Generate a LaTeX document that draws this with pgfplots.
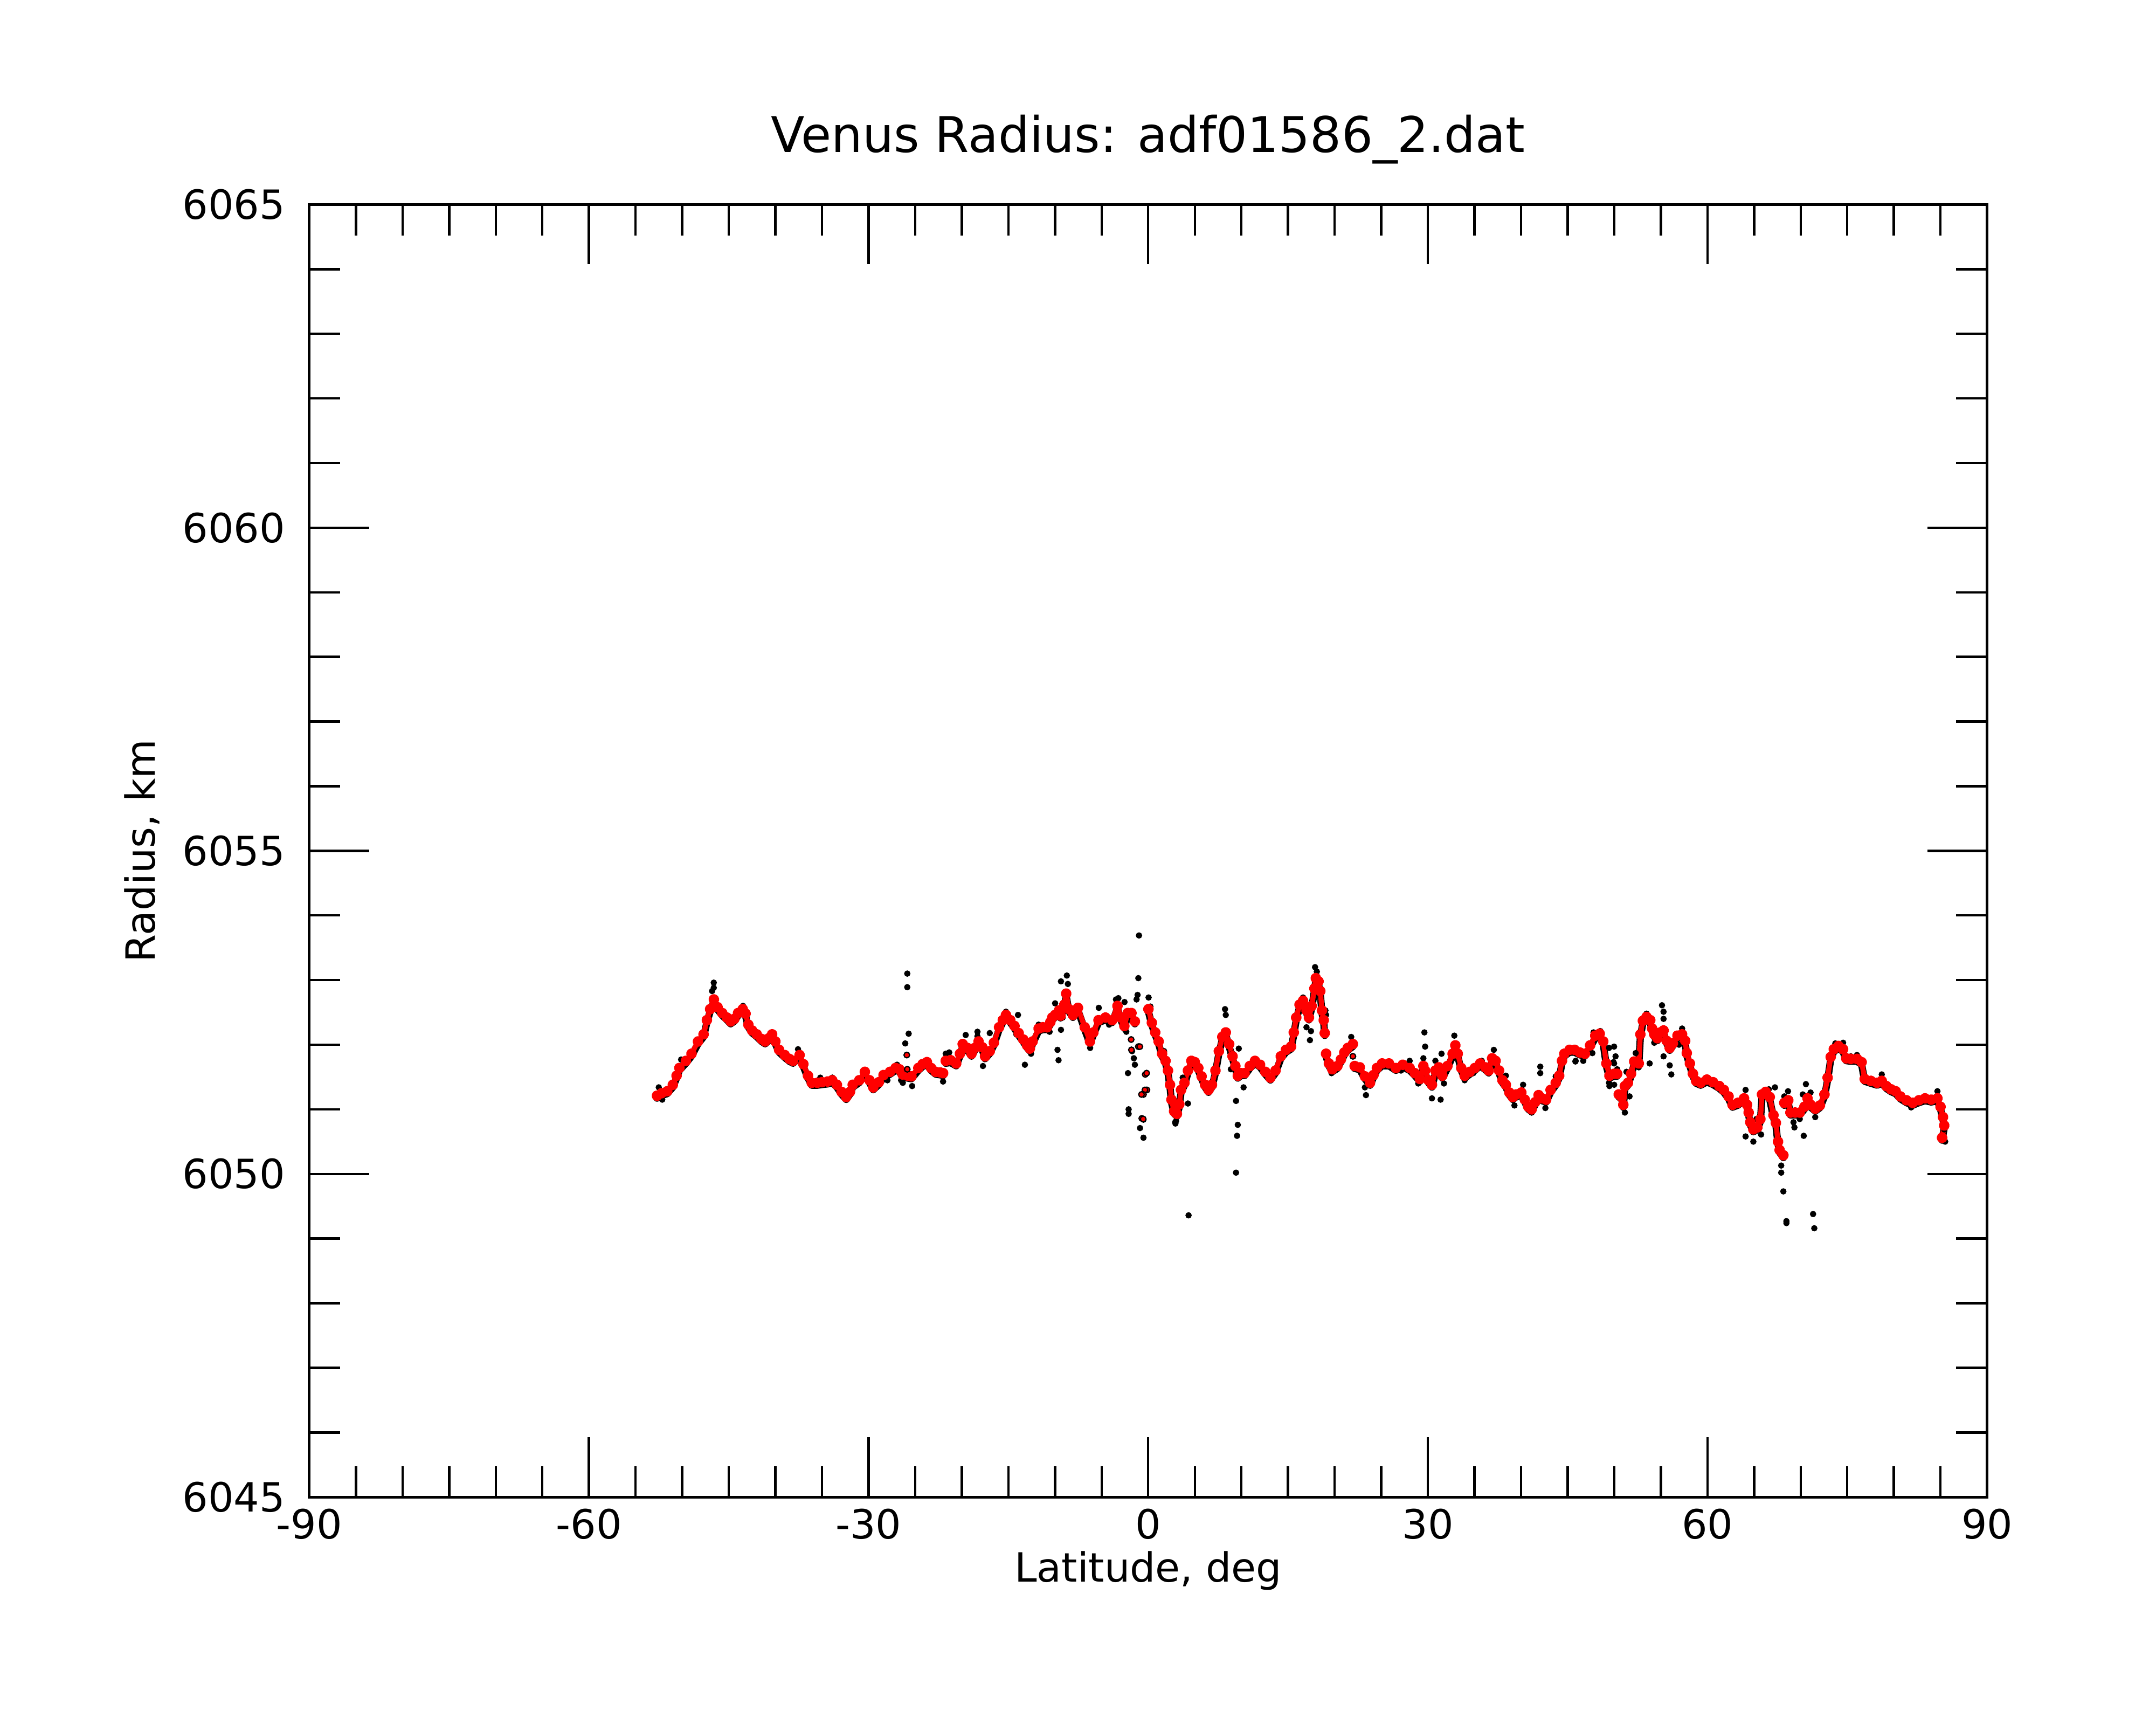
\documentclass[border=0pt]{standalone}
\usepackage{fontspec}
\setmainfont{DejaVu Sans}
\usepackage{pgfplots}
\usepackage{pgfplotstable}
\pgfplotsset{compat=1.18}

% smoothed (red) profile; nan rows break the line
\pgfplotstableread{
lat r
-52.7 6051.21
-52.2 6051.25
-51.6 6051.28
-51.0 6051.38
-50.6 6051.52
-50.3 6051.64
-49.6 6051.75
-49.0 6051.86
-48.3 6052.05
-47.7 6052.16
-47.35 6052.38
-47.0 6052.55
-46.6 6052.70
-46.2 6052.58
-45.7 6052.49
-45.2 6052.42
-44.8 6052.36
-44.4 6052.40
-44.0 6052.49
-43.5 6052.55
-43.2 6052.48
-42.9 6052.31
-42.5 6052.22
-42.0 6052.16
-41.5 6052.09
-41.1 6052.05
-40.7 6052.10
-40.35 6052.16
-40.0 6052.05
-39.6 6051.92
-39.0 6051.84
-38.5 6051.78
-38.1 6051.75
-37.4 6051.84
-37.0 6051.70
-36.5 6051.52
-36.1 6051.41
-35.5 6051.41
-35.0 6051.42
-34.4 6051.43
-33.9 6051.45
-33.4 6051.38
-32.9 6051.27
-32.4 6051.19
-32.0 6051.27
-31.7 6051.38
-31.0 6051.45
-30.4 6051.58
-29.9 6051.45
-29.5 6051.34
-28.9 6051.42
-28.4 6051.53
-27.7 6051.58
-27.1 6051.64
-26.7 6051.62
-26.35 6051.54
-25.8 6051.52
-25.4 6051.51
-24.66 6051.64
-24.2 6051.70
-23.74 6051.73
-23.3 6051.64
-22.8 6051.58
-22.3 6051.57
-22.0 6051.56
nan nan
-21.72 6051.75
-21.2 6051.76
-20.6 6051.71
-20.2 6051.86
-19.9 6052.01
-19.4 6051.95
-18.96 6051.86
-18.6 6051.95
-18.2 6052.05
-17.8 6051.96
-17.5 6051.82
-17.0 6051.90
-16.56 6052.03
-16.0 6052.27
-15.6 6052.38
-15.26 6052.46
-14.8 6052.38
-14.35 6052.29
-13.9 6052.18
-13.4 6052.08
-13.0 6051.99
-12.7 6051.94
-12.4 6052.05
-11.76 6052.25
-11.3 6052.27
-10.85 6052.27
-10.5 6052.35
-10.3 6052.42
-10.0 6052.46
-9.57 6052.53
-9.4 6052.45
-9.0 6052.62
-8.8 6052.79
-8.5 6052.55
-8.08 6052.46
-7.54 6052.57
-6.81 6052.27
-6.25 6052.05
-5.88 6052.19
-5.33 6052.38
-4.59 6052.42
-3.86 6052.38
-3.30 6052.60
-2.93 6052.42
-2.56 6052.29
-2.20 6052.49
-1.80 6052.49
-1.43 6052.36
nan nan
0.02 6052.55
0.39 6052.34
0.75 6052.19
1.12 6052.05
1.49 6051.86
1.86 6051.75
2.12 6051.60
2.34 6051.38
2.49 6051.15
2.78 6050.97
3.08 6050.93
3.34 6051.08
3.52 6051.30
3.89 6051.41
4.26 6051.60
4.63 6051.75
5.00 6051.73
5.37 6051.64
5.73 6051.51
6.10 6051.38
6.47 6051.30
6.84 6051.38
7.21 6051.60
7.58 6051.90
7.95 6052.12
8.32 6052.19
8.68 6052.01
9.05 6051.82
9.35 6051.67
9.61 6051.52
9.97 6051.56
10.34 6051.56
10.90 6051.67
11.45 6051.75
12.00 6051.69
12.56 6051.58
13.11 6051.49
13.66 6051.60
14.22 6051.82
14.77 6051.92
15.32 6051.97
15.62 6052.19
15.88 6052.42
16.24 6052.62
16.61 6052.68
16.98 6052.53
17.24 6052.42
17.54 6052.60
17.83 6052.87
17.98 6053.03
18.27 6052.98
18.46 6052.83
18.64 6052.53
18.83 6052.38
18.94 6052.18
nan nan
19.08 6051.86
19.38 6051.71
19.75 6051.62
20.30 6051.67
20.67 6051.77
21.04 6051.88
21.41 6051.95
21.96 6052.01
nan nan
22.15 6051.67
22.70 6051.65
23.25 6051.51
23.80 6051.41
24.17 6051.53
24.54 6051.64
25.09 6051.71
25.83 6051.71
26.57 6051.64
27.31 6051.69
28.05 6051.64
28.60 6051.56
29.15 6051.47
29.52 6051.67
29.71 6051.60
30.07 6051.45
30.44 6051.38
30.81 6051.60
31.18 6051.65
31.55 6051.52
32.10 6051.67
32.66 6051.86
32.95 6051.99
33.21 6051.86
33.58 6051.64
33.95 6051.52
34.50 6051.58
35.05 6051.64
35.61 6051.71
36.16 6051.65
36.53 6051.60
36.90 6051.79
37.27 6051.75
37.64 6051.60
38.00 6051.45
38.37 6051.38
38.74 6051.26
39.11 6051.19
39.48 6051.23
40.03 6051.26
40.40 6051.15
40.77 6051.04
41.14 6051.00
41.51 6051.11
41.88 6051.22
42.25 6051.17
42.69 6051.15
43.17 6051.30
43.72 6051.41
44.09 6051.52
44.39 6051.75
44.64 6051.86
45.20 6051.92
45.75 6051.92
46.30 6051.88
46.85 6051.86
47.41 6051.99
47.96 6052.14
48.44 6052.17
48.82 6052.05
49.15 6051.71
49.48 6051.52
49.98 6051.55
50.31 6051.55
nan nan
50.48 6051.23
50.81 6051.19
50.97 6051.07
51.14 6051.36
51.47 6051.41
51.80 6051.55
52.14 6051.74
52.63 6051.71
52.80 6052.16
53.07 6052.37
53.46 6052.43
53.86 6052.38
54.06 6052.25
54.29 6052.16
54.63 6052.10
54.96 6052.19
55.29 6052.22
55.62 6052.06
55.95 6051.95
56.29 6052.02
56.78 6052.14
57.28 6052.16
57.61 6052.06
57.78 6051.87
58.11 6051.71
58.44 6051.55
58.78 6051.44
59.27 6051.41
59.94 6051.46
60.60 6051.42
61.27 6051.36
61.76 6051.30
62.26 6051.20
62.69 6051.07
63.26 6051.10
63.92 6051.17
64.25 6051.07
64.42 6050.95
64.59 6050.80
64.92 6050.69
65.35 6050.72
65.68 6050.85
65.85 6051.23
66.25 6051.27
66.68 6051.19
67.08 6050.91
67.34 6050.79
67.57 6050.50
67.74 6050.37
68.14 6050.29
nan nan
68.24 6051.10
68.67 6051.14
68.90 6050.95
69.40 6050.95
69.90 6050.95
70.40 6051.04
70.73 6051.17
71.06 6051.07
71.56 6051.01
72.06 6051.06
72.55 6051.23
72.89 6051.49
73.22 6051.81
73.55 6051.93
74.05 6051.98
74.55 6051.93
74.88 6051.79
75.38 6051.78
76.04 6051.78
76.54 6051.73
76.87 6051.47
77.53 6051.44
78.20 6051.41
78.70 6051.44
79.19 6051.36
79.69 6051.31
80.19 6051.28
80.69 6051.20
81.35 6051.14
82.02 6051.10
82.68 6051.14
83.34 6051.17
84.01 6051.15
84.67 6051.17
85.00 6051.04
85.27 6050.88
85.40 6050.75
85.17 6050.56
}\redline

% isolated smoothed (red) points
\pgfplotstableread{
lat r
-25.9 6051.84
-25.85 6051.62
-1.83 6052.08
-1.80 6051.92
-1.06 6051.97
-0.90 6051.97
-0.32 6051.54
-0.17 6051.56
-0.14 6051.30
-0.35 6051.30
-0.51 6051.23
-0.72 6051.23
-0.69 6050.86
-0.54 6050.85
21.96 6051.82
}\reddots

% raw (black) points departing from the smoothed profile
\pgfplotstableread{
lat r
-52.51 6051.34
-52.14 6051.15
-50.11 6051.77
-49.19 6051.82
-46.61 6052.96
-46.61 6052.88
-46.79 6052.83
-44.95 6052.34
-43.47 6052.60
-37.57 6051.93
-37.94 6051.75
-35.18 6051.49
-33.89 6051.49
-31.30 6051.41
-30.38 6051.58
-27.98 6051.45
-26.95 6051.69
-26.51 6051.45
-25.85 6053.10
-25.85 6052.89
-25.70 6052.17
-26.07 6052.02
-26.33 6051.41
-25.33 6051.36
-23.56 6051.73
-22.01 6051.43
-21.72 6051.86
-21.35 6051.88
-20.79 6051.71
-19.58 6052.15
-18.32 6052.20
-18.32 6052.13
-17.73 6051.67
-17.00 6052.18
-15.26 6052.51
-13.97 6052.46
-14.15 6052.16
-13.23 6051.69
-12.57 6051.86
-11.76 6052.31
-10.58 6052.20
-9.73 6051.92
-9.62 6051.76
-9.99 6052.64
-9.36 6052.98
-8.73 6053.07
-8.62 6052.94
-9.18 6052.42
-9.36 6052.23
-8.07 6052.42
-7.52 6052.57
-6.23 6051.95
-5.30 6052.57
-4.20 6052.31
-3.46 6052.70
-3.20 6052.72
-2.54 6052.66
-2.17 6051.56
-2.10 6051.00
-2.10 6050.93
-2.54 6052.27
-2.35 6052.20
-1.73 6051.90
-1.54 6051.79
-1.43 6051.69
-0.99 6053.69
-1.06 6053.03
-1.14 6052.77
-1.25 6052.70
0.04 6052.73
0.23 6052.59
-0.88 6050.71
-0.51 6050.56
-0.51 6050.84
1.70 6051.90
2.99 6050.82
2.92 6050.78
4.26 6051.09
4.33 6049.36
2.89 6050.80
3.70 6051.49
4.63 6051.77
8.24 6052.55
8.32 6052.46
9.42 6051.13
9.61 6050.76
9.53 6050.59
9.42 6050.02
10.23 6051.34
9.72 6051.94
9.05 6051.86
8.87 6051.62
17.90 6053.20
18.09 6053.13
17.35 6052.07
16.98 6052.27
17.46 6052.21
19.01 6052.53
19.08 6052.46
16.61 6052.73
21.78 6052.12
19.67 6051.56
23.36 6051.22
23.25 6051.34
23.99 6051.41
27.12 6051.60
28.05 6051.75
28.97 6051.40
29.63 6052.19
29.71 6051.97
29.52 6051.79
30.44 6051.17
31.37 6051.15
30.81 6051.75
31.47 6051.86
31.73 6051.40
32.84 6052.14
33.95 6051.45
34.87 6051.56
35.79 6051.75
37.08 6051.92
38.37 6051.52
39.29 6051.06
40.22 6051.38
41.14 6050.95
42.06 6051.66
42.06 6051.56
42.61 6051.02
43.72 6051.51
45.01 6051.92
45.86 6051.75
46.67 6051.75
47.78 6052.19
48.51 6052.21
49.44 6051.95
49.92 6051.73
49.44 6051.41
49.99 6051.38
45.83 6051.74
47.65 6051.87
48.48 6052.21
49.98 6051.97
50.14 6051.82
49.98 6051.71
50.31 6051.62
49.48 6051.36
51.31 6051.58
51.64 6051.20
51.14 6050.95
52.30 6051.87
52.63 6051.65
53.46 6052.48
53.80 6051.71
54.29 6052.03
55.12 6052.61
55.29 6052.51
55.29 6052.40
55.29 6051.82
55.95 6051.68
56.12 6051.54
57.28 6052.25
56.95 6052.00
64.09 6051.30
64.09 6050.58
64.92 6050.50
65.75 6050.61
65.25 6050.85
66.58 6051.31
67.24 6051.34
67.91 6050.13
67.91 6050.02
68.14 6049.73
68.47 6049.27
68.47 6049.24
71.33 6049.38
71.46 6049.16
68.24 6051.20
68.64 6051.28
69.23 6050.80
69.33 6050.72
69.90 6050.85
70.33 6050.59
70.56 6051.39
70.23 6051.23
71.06 6051.26
71.56 6050.88
73.72 6052.02
74.55 6052.03
75.38 6051.82
76.04 6051.84
78.70 6051.54
81.85 6051.03
84.67 6051.28
85.50 6050.50
85.40 6050.69
}\blackdots

\begin{document}
\begin{tikzpicture}
\path[use as bounding box] (0,0) rectangle (720bp,576bp);
\begin{axis}[
  at={(103.3bp,76.1bp)}, anchor=south west,
  width=560.3bp, height=431.6bp, scale only axis,
  xmin=-90, xmax=90, ymin=6045, ymax=6065,
  xtick={-90,-60,-30,0,30,60,90},
  xticklabels={-90,-60,-30,0,30,60,90},
  ytick={6045,6050,6055,6060,6065},
  yticklabels={6045,6050,6055,6060,6065},
  minor x tick num=5, minor y tick num=4,
  tick align=inside,
  major tick length=20bp, minor tick length=10.3bp,
  axis line style={line width=0.9bp},
  tick style={black, line width=0.8bp},
  minor tick style={black, line width=0.8bp},
  xticklabel style={anchor=base, inner sep=0pt, yshift=-14bp, font=\fontsize{13.5}{16}\selectfont},
  yticklabel style={anchor=east, inner sep=0pt, xshift=-7.9bp, font=\fontsize{13.5}{16}\selectfont},
  xlabel={Latitude, deg},
  ylabel={Radius, km},
  xlabel style={at={(axis description cs:0.5,-0.0658)}, anchor=base, inner sep=0pt, font=\fontsize{13.5}{16}\selectfont},
  ylabel style={at={(axis description cs:-0.0919,0.5)}, anchor=base, inner sep=0pt, font=\fontsize{13.5}{16}\selectfont},
  title={Venus Radius: adf01586\_2.dat},
  title style={at={(axis description cs:0.5,1.0405)}, anchor=base, inner sep=0pt, yshift=-6pt, font=\fontsize{16.5}{20}\selectfont},
  unbounded coords=jump,
]
% raw data (black)
\addplot[black, line width=2.4bp, line join=round, line cap=round, yshift=-0.8bp] table[x=lat, y=r]{\redline};
\addplot[only marks, mark=*, mark size=0.85bp, black] table[x=lat, y=r]{\blackdots};
% smoothed (red)
\addplot[red, line width=1.7bp, line join=round, line cap=round, mark=*, mark size=0.95bp, mark options={draw=none, fill=red}] table[x=lat, y=r]{\redline};
\addplot[only marks, mark=*, mark size=0.95bp, mark options={draw=none, fill=red}] table[x=lat, y=r]{\reddots};
\end{axis}
\end{tikzpicture}
\end{document}
